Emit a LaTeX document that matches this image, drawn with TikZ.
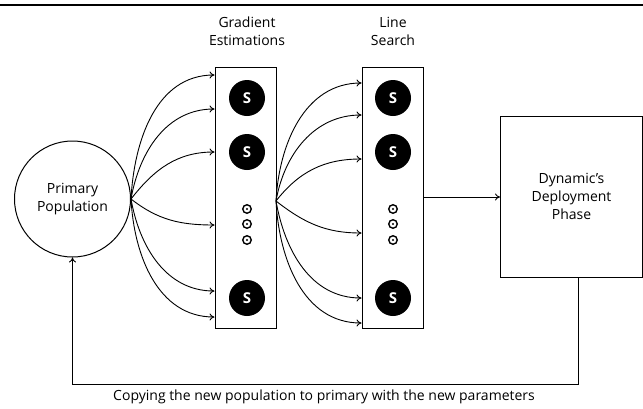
\documentclass[tikz,border=0pt]{standalone}
\usepackage{fontspec}
\setmainfont{Open Sans}
\usetikzlibrary{arrows.meta}
\begin{document}
\begin{tikzpicture}[x=1pt,y=1pt,
  lbl/.style={font=\fontsize{14}{18}\selectfont, align=center},
  stack/.style={draw, line width=1pt, minimum width=61pt, minimum height=261pt, inner sep=0pt},
  sball/.style={circle, fill=black, minimum size=36pt, inner sep=0pt, text=white, font=\fontsize{15}{15}\selectfont\bfseries},
  ring/.style={circle, draw, line width=1.4pt, minimum size=8.5pt, inner sep=0pt},
  arr/.style={-{To[length=5pt,width=7pt]}, line width=0.9pt},
  conn/.style={line width=0.9pt}]
\useasboundingbox (0,0) rectangle (643,-408);
\draw[line width=1.6pt] (0,-5) -- (643,-5);

\node[circle, draw, line width=1pt, minimum size=116pt, inner sep=0pt, lbl] (pop) at (72.5,-199) {Primary\\Population};
\node[stack] (g) at (245.5,-197.5) {};
\node[stack] (l) at (392.5,-197.5) {};
\node[draw, line width=1pt, minimum width=142pt, minimum height=161pt, inner sep=0pt, lbl] (d) at (571.5,-196.5) {Dynamic's\\Deployment\\Phase};

\node[lbl] (gt) at (247,-31) {Gradient\\Estimations};
\node[lbl] (lt) at (393,-31) {Line\\Search};

% S balls and rings in gradient stack
\node[sball] (g1) at (247,-98) {S};
\node[sball] (g2) at (247,-152) {S};
\node[sball] (g3) at (247,-298) {S};
\foreach \y/\n in {209/a,224/b,240/c}{
  \node[ring] (gr\n) at (247,-\y) {};
  \fill (gr\n.center) circle (1.1pt);
  \node[ring] (lr\n) at (393,-\y) {};
  \fill (lr\n.center) circle (1.1pt);
}
\node[sball] (l1) at (393,-98) {S};
\node[sball] (l2) at (393,-152) {S};
\node[sball] (l3) at (393,-298) {S};

% fan-out from population to gradient stack
\draw[arr] (pop.east) to[out=87,in=180] (g.west |- 0,-75);
\draw[arr] (pop.east) to[out=80,in=180] (g.west |- 0,-109);
\draw[arr] (pop.east) to[out=52,in=180] (g.west |- 0,-152);
\draw[arr] (pop.east) to[out=-38,in=180] (g.west |- 0,-225);
\draw[arr] (pop.east) to[out=-80,in=180] (g.west |- 0,-291);
\draw[arr] (pop.east) to[out=-87,in=180] (g.west |- 0,-317);

% fan-out from gradient stack to line search stack
\coordinate (gs) at (276,-201);
\draw[arr] (gs) to[out=87,in=180] (l.west |- 0,-83);
\draw[arr] (gs) to[out=80,in=180] (l.west |- 0,-115);
\draw[arr] (gs) to[out=52,in=180] (l.west |- 0,-159);
\draw[arr] (gs) to[out=-38,in=180] (l.west |- 0,-233);
\draw[arr] (gs) to[out=-80,in=180] (l.west |- 0,-298);
\draw[arr] (gs) to[out=-87,in=180] (l.west |- 0,-323);

\draw[arr] (l.east |- 0,-197) -- (d.west |- 0,-197);

% feedback
\coordinate (fb) at (578,-384);
\draw[arr] (d.south -| fb) -- (fb) -| (pop.south);
\node[lbl] (fbt) at (324,-397) {Copying the new population to primary with the new parameters};
\end{tikzpicture}
\end{document}
